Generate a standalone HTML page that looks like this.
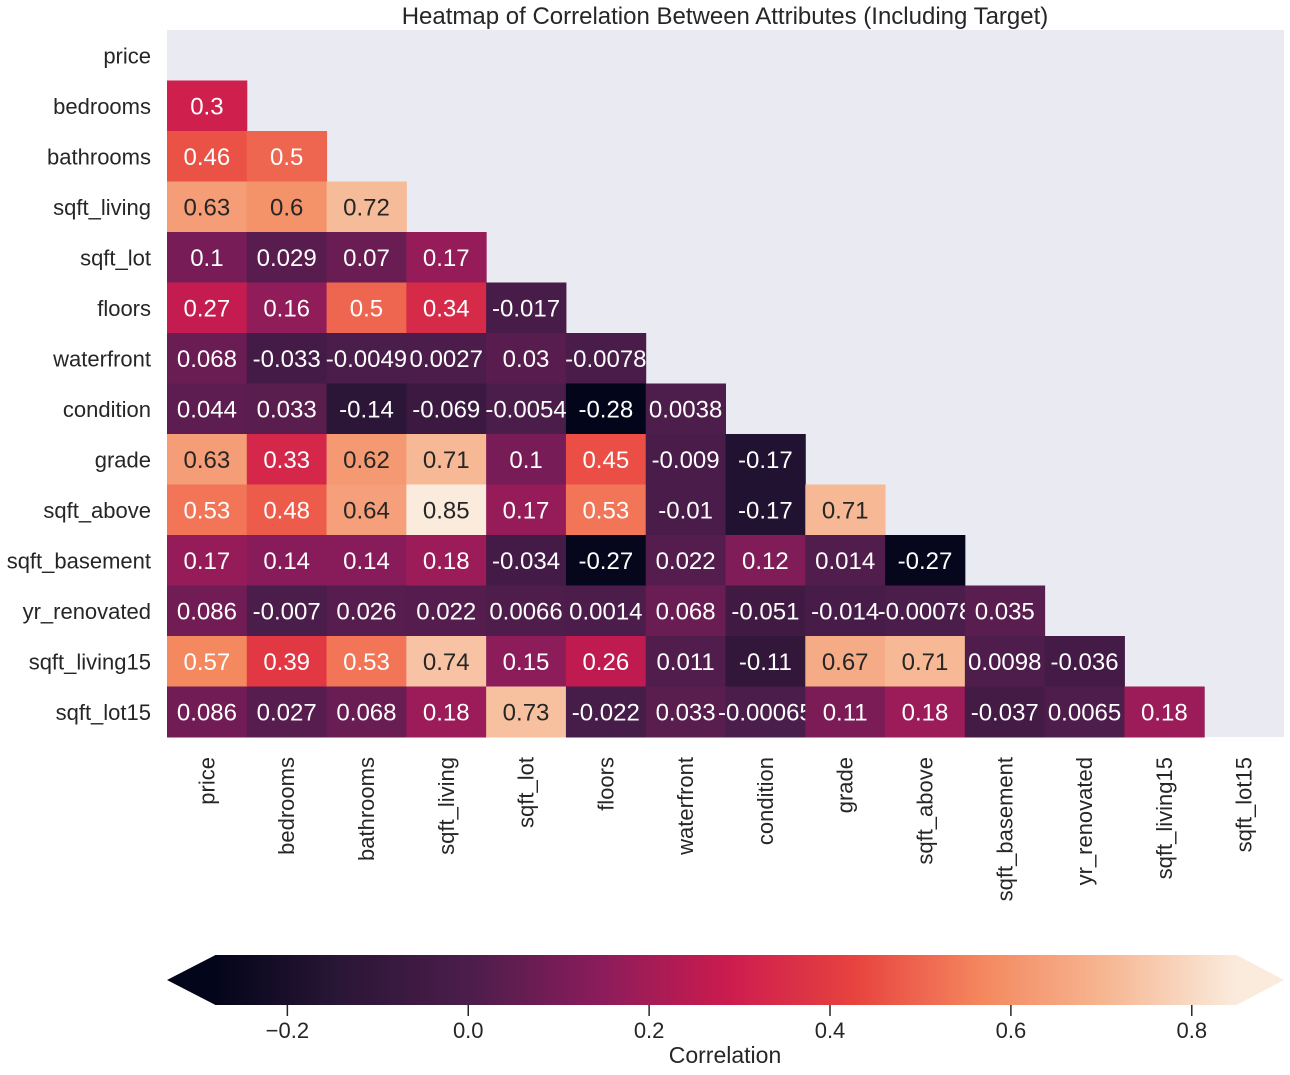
<!DOCTYPE html>
<html><head><meta charset="utf-8"><style>
body{margin:0;background:#fff;}
svg{display:block;font-family:"Liberation Sans",Arial,sans-serif;}
</style></head><body>
<svg id="chart" width="1290" height="1075">
<rect x="167" y="30" width="1117" height="707" fill="#EAEAF2"/>
<text x="725" y="24" font-size="24" fill="#262626" text-anchor="middle">Heatmap of Correlation Between Attributes (Including Target)</text>
<g id="cells"></g><g id="ylabels"></g><g id="xlabels"></g>
<defs><linearGradient id="cbgrad" x1="0" x2="1" y1="0" y2="0"></linearGradient></defs>
<g id="colorbar"></g>
<text x="725" y="1063" font-size="23" fill="#262626" text-anchor="middle">Correlation</text>
</svg>
<script>
const labels=["price","bedrooms","bathrooms","sqft_living","sqft_lot","floors","waterfront","condition","grade","sqft_above","sqft_basement","yr_renovated","sqft_living15","sqft_lot15"];
const rowValues=[
[],
[0.3],
[0.46,0.5],
[0.63,0.6,0.72],
[0.1,0.029,0.07,0.17],
[0.27,0.16,0.5,0.34,-0.017],
[0.068,-0.033,-0.0049,0.0027,0.03,-0.0078],
[0.044,0.033,-0.14,-0.069,-0.0054,-0.28,0.0038],
[0.63,0.33,0.62,0.71,0.1,0.45,-0.009,-0.17],
[0.53,0.48,0.64,0.85,0.17,0.53,-0.01,-0.17,0.71],
[0.17,0.14,0.14,0.18,-0.034,-0.27,0.022,0.12,0.014,-0.27],
[0.086,-0.007,0.026,0.022,0.0066,0.0014,0.068,-0.051,-0.014,-0.00078,0.035],
[0.57,0.39,0.53,0.74,0.15,0.26,0.011,-0.11,0.67,0.71,0.0098,-0.036],
[0.086,0.027,0.068,0.18,0.73,-0.022,0.033,-0.00065,0.11,0.18,-0.037,0.0065,0.18]
];
const cbTicks=[-0.2,0,0.2,0.4,0.6,0.8];
const cbTickLabels=["\u22120.2","0.0","0.2","0.4","0.6","0.8"];
const vmin=-0.28, vmax=0.85;
const NS="http://www.w3.org/2000/svg";
const X0=167,Y0=30,CW=1117/14,RH=707/14;
const stops=[[0,"#03051A"],[0.125,"#2B1637"],[0.25,"#4C1D4B"],[0.375,"#8A1C5B"],[0.5,"#CB1B4F"],[0.625,"#E8423F"],[0.75,"#F4875E"],[0.875,"#F6B894"],[1,"#FAEBDD"]];
function hx(h){return [1,3,5].map(i=>parseInt(h.substr(i,2),16));}
function colorAt(t){t=Math.max(0,Math.min(1,t));for(let i=1;i<stops.length;i++){if(t<=stops[i][0]){const a=stops[i-1],b=stops[i];const f=(t-a[0])/(b[0]-a[0]);const ca=hx(a[1]),cb=hx(b[1]);return ca.map((v,k)=>Math.round(v+(cb[k]-v)*f));}}return hx(stops[stops.length-1][1]);}
function lum(c){const l=c.map(v=>{v/=255;return v<=0.03928?v/12.92:Math.pow((v+0.055)/1.055,2.4);});return 0.2126*l[0]+0.7152*l[1]+0.0722*l[2];}
function norm(v){return (v-vmin)/(vmax-vmin);}
function el(tag,attrs,parent){const e=document.createElementNS(NS,tag);for(const k in attrs)e.setAttribute(k,attrs[k]);parent.appendChild(e);return e;}
const cells=document.getElementById('cells');
rowValues.forEach((row,i)=>{row.forEach((v,j)=>{
 const c=colorAt(norm(v));
 const r=el('rect',{x:X0+j*CW,y:Y0+i*RH,width:CW+0.5,height:RH+0.5,fill:`rgb(${c})`},cells);
 
 
 const t=el('text',{x:X0+(j+0.5)*CW,y:Y0+(i+0.5)*RH+8.5,'font-size':24,'text-anchor':'middle',fill:lum(c)>0.408?'#262626':'#ffffff'},cells);
 t.textContent=String(v);
 
 
});});
const yl=document.getElementById('ylabels'),xl=document.getElementById('xlabels');
labels.forEach((l,i)=>{
 const t=el('text',{x:151,y:Y0+(i+0.5)*RH+8,'font-size':22,'text-anchor':'end',fill:'#262626'},yl);
 t.textContent=l;
 
 
 const cx=X0+(i+0.5)*CW+7.5,cy=757;
 const u=el('text',{x:cx,y:cy,'font-size':22,'text-anchor':'end',fill:'#262626',transform:`rotate(-90 ${cx} ${cy})`},xl);
 u.textContent=l;
 
 
});
const grad=document.getElementById('cbgrad');
for(let k=0;k<=40;k++){const c=colorAt(k/40);el('stop',{offset:(k/40),'stop-color':`rgb(${c})`},grad);}
const cb=document.getElementById('colorbar');
const BX0=215,BX1=1237,BT=955,BB=1005;
function cbx(v){return BX0+(v-vmin)/(vmax-vmin)*(BX1-BX0);}
const lt=el('polygon',{points:`${BX0+0.5},${BT} 167,${(BT+BB)/2} ${BX0+0.5},${BB}`,fill:`rgb(${colorAt(0)})`},cb);


const rt=el('polygon',{points:`${BX1-0.5},${BT} 1284,${(BT+BB)/2} ${BX1-0.5},${BB}`,fill:`rgb(${colorAt(1)})`},cb);


const bar=el('rect',{x:BX0,y:BT,width:BX1-BX0,height:BB-BT,fill:'url(#cbgrad)'},cb);


cbTicks.forEach((v,k)=>{
 const x=cbx(v);
 const ln=el('line',{x1:x,x2:x,y1:BB,y2:BB+11,stroke:'#262626','stroke-width':1.5},cb);
 
 
 const t=el('text',{x:x,y:1038,'font-size':22,'text-anchor':'middle',fill:'#262626'},cb);
 t.textContent=cbTickLabels[k];
 
 
});
</script>
</body></html>
